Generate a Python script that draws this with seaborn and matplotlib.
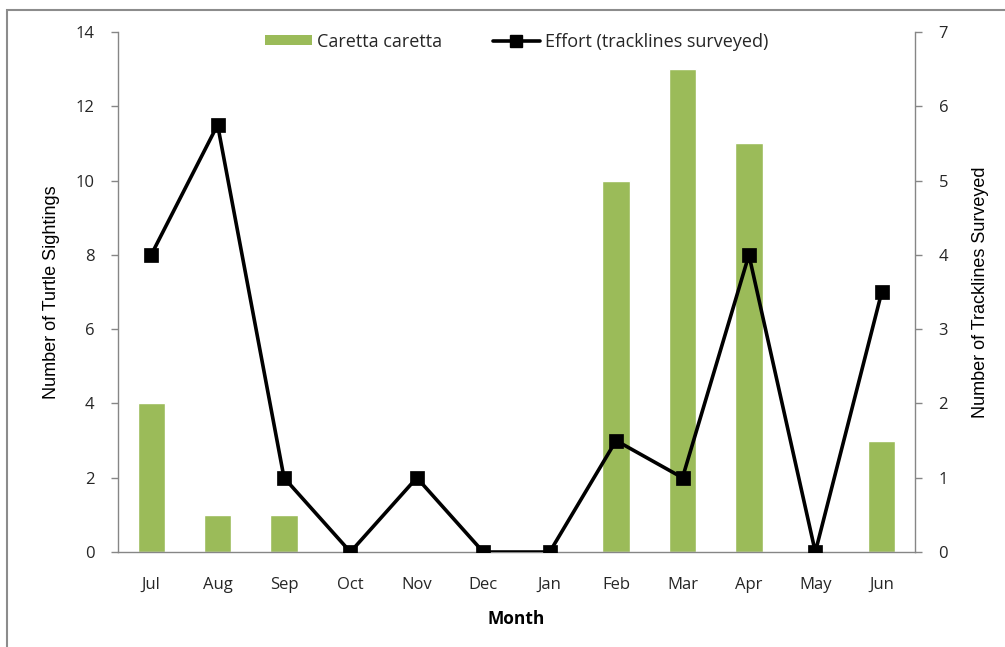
import matplotlib
matplotlib.use("Agg")
import matplotlib.pyplot as plt
from matplotlib.patches import Rectangle
from matplotlib.lines import Line2D
from matplotlib.patches import Patch
import seaborn as sns
import pandas as pd

months = ["Jul", "Aug", "Sep", "Oct", "Nov", "Dec", "Jan", "Feb", "Mar", "Apr", "May", "Jun"]
sightings = [4, 1, 1, 0, 0, 0, 0, 10, 13, 11, 0, 3]
effort = [4, 5.75, 1, 0, 1, 0, 0, 1.5, 1, 4, 0, 3.5]

sns.set_style("white")
plt.rcParams["font.family"] = ["Open Sans", "DejaVu Sans"]

df = pd.DataFrame({"Month": months, "Sightings": sightings, "Effort": effort})

fig = plt.figure(figsize=(10.05, 6.47), dpi=100)
ax = fig.add_axes([0.1174, 0.1468, 0.793, 0.8037])

bar_green = "#9bbb59"
grey = "#868686"

sns.barplot(data=df, x="Month", y="Sightings", color=bar_green, width=0.41,
            saturation=1, ax=ax, zorder=1)
ax.set_ylim(0, 14)
ax.set_yticks(range(0, 15, 2))
ax.set_xlim(-0.5, len(months) - 0.5)

ax2 = ax.twinx()
sns.pointplot(data=df, x="Month", y="Effort", color="black", markers="s",
              markersize=9, linewidth=2.6, ax=ax2, errorbar=None)
ax2.set_ylim(0, 7)
ax2.set_yticks(range(0, 8))
ax2.set_xlim(-0.5, len(months) - 0.5)

label_font = ["Liberation Sans Narrow", "Liberation Sans", "DejaVu Sans"]
ax.set_ylabel("Number of Turtle Sightings", fontsize=13, family=label_font,
              labelpad=11, color="black")
ax2.set_ylabel("Number of Tracklines Surveyed", fontsize=13, family=label_font,
               labelpad=17, color="black")
ax.set_xlabel("Month", fontsize=12.5, fontweight="bold", labelpad=12, color="black")

for a in (ax, ax2):
    for s in a.spines.values():
        s.set_color(grey)
        s.set_linewidth(1.0)
    a.spines["top"].set_visible(False)
    a.tick_params(axis="both", colors=grey, labelcolor="#262626", labelsize=12,
                  length=5, width=1, direction="out")
ax.spines["right"].set_visible(False)
ax2.spines["left"].set_visible(False)
ax2.spines["bottom"].set_visible(False)

# x ticks sit between the month categories, labels stay centred
ax.set_xticks(range(len(months)))
ax.set_xticklabels(months)
ax.tick_params(axis="x", length=0, pad=18)
ax.set_xticks([i - 0.5 for i in range(len(months) + 1)], minor=True)
ax.tick_params(axis="x", which="minor", length=6, colors=grey, width=1, direction="out")
ax.tick_params(axis="y", pad=12)
ax2.tick_params(axis="y", pad=12)
ax.grid(False)
ax2.grid(False)

handles = [
    Patch(facecolor=bar_green, edgecolor="none", label="Caretta caretta"),
    Line2D([0], [0], color="black", lw=2.6, marker="s", markersize=9,
           label="Effort (tracklines surveyed)"),
]
ax.legend(handles=handles, loc="upper center", bbox_to_anchor=(0.5, 1.03), ncol=2,
          frameon=False, fontsize=13, handlelength=2.6, handleheight=0.5,
          columnspacing=2.8, handletextpad=0.3)

fig.patches.append(Rectangle((7 / 1005, -0.1), 1.2, 1.1 - 10 / 647,
                             transform=fig.transFigure, fill=False,
                             edgecolor="#8c8c8c", linewidth=1.5, zorder=0))

fig.savefig("out.png", dpi=100)
